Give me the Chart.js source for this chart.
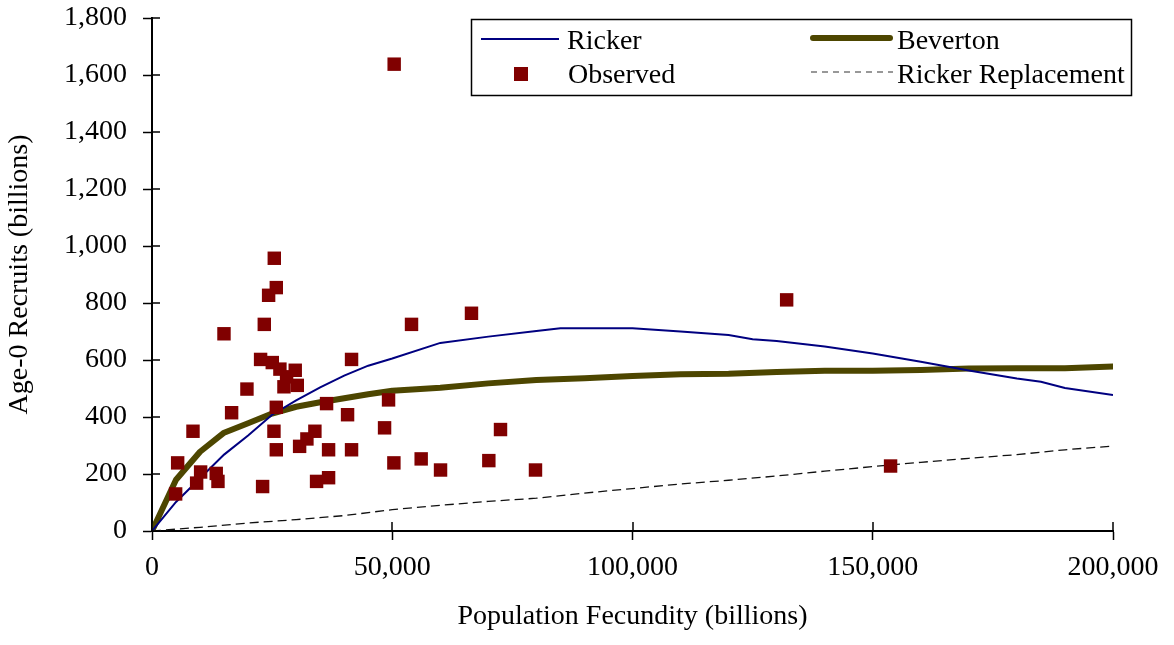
<!DOCTYPE html>
<html><head><meta charset="utf-8">
<script src="https://cdn.jsdelivr.net/npm/chart.js@4.4.1/dist/chart.umd.min.js"></script>
<style>html,body{margin:0;padding:0;background:#fff;}#wrap{width:1174px;height:645px;position:relative;}</style>
</head><body><div id="wrap"><canvas id="c" width="1174" height="645"></canvas></div>
<script>
// ---- data ----
const obsFecundity = [25450,25870,24270,23370,14980,22600,25030,26620,29810,28010,27460,30230,41530,19760,25870,36330,16570,40700,49230,48400,8530,25380,33900,32240,30720,25870,36750,41530,50340,5340,10120,13370,9290,13730,23020,34250,36750,4920,66490,54010,72530,56020,60050,70100,79810,50400,132080,153710];
const obsRecruits  = [957,854,827,725,692,602,591,568,564,541,506,511,602,498,434,447,415,408,460,362,350,350,350,323,297,285,285,285,239,239,207,202,168,174,156,174,187,130,764,725,356,253,214,247,214,1638,811,228];

const rickerX = [0,5000,10000,15000,20000,25000,30000,35000,40000,45000,50000,60000,70000,80000,85000,90000,100000,110000,120000,125000,130000,140000,150000,160000,170000,180000,185000,190000,200000];
const rickerY = [0,102,185,268,335,408,458,504,545,580,605,660,682,702,711,711,711,700,688,673,667,647,623,594,563,535,524,502,477];

const bevertonX = [0,5000,10000,15000,20000,25000,30000,35000,40000,45000,50000,60000,70000,80000,90000,100000,110000,120000,130000,140000,150000,160000,170000,180000,190000,200000];
const bevertonY = [0,180,278,345,378,412,436,452,466,480,492,503,518,530,536,544,550,552,558,562,562,565,570,571,571,577];

const replX = [0,10000,20000,30000,40000,50000,60000,70000,80000,90000,100000,110000,120000,130000,140000,150000,160000,170000,180000,190000,200000];
const replY = [0,13,28,40,54,75,90,104,115,133,149,165,178,193,210,226,241,255,268,285,298];

const xTickStep = 50000, xMax = 200000;
const yTickStep = 200, yMax = 1800;
const seriesNames = ['Observed','Ricker','Beverton','Ricker Replacement'];
const xTitle = 'Population Fecundity (billions)';
const yTitle = 'Age-0 Recruits (billions)';

// ---- chart ----
const FONT = "'Liberation Serif','Times New Roman',serif";
const pts = (xs, ys) => xs.map((x, i) => ({x, y: ys[i]}));
const font28 = {family: FONT, size: 28};

const innerTicks = {
  id: 'innerTicks',
  afterDraw(chart) {
    const {ctx, scales: {x, y}, chartArea: a} = chart;
    ctx.save();
    ctx.strokeStyle = '#000'; ctx.lineWidth = 1.5;
    ctx.beginPath();
    x.ticks.forEach(t => { const p = Math.round(x.getPixelForValue(t.value)); ctx.moveTo(p, a.bottom); ctx.lineTo(p, a.bottom - 9); });
    y.ticks.forEach(t => { const p = Math.round(y.getPixelForValue(t.value)); ctx.moveTo(a.left, p); ctx.lineTo(a.left + 8, p); });
    ctx.stroke();
    ctx.restore();
  }
};

const boxLegend = {
  id: 'boxLegend',
  afterDraw(chart) {
    const c = chart.ctx, ds = chart.data.datasets;
    c.save();
    c.fillStyle = '#fff';
    c.fillRect(471, 19, 661, 76);
    c.strokeStyle = '#000'; c.lineWidth = 1.5;
    c.strokeRect(471.5, 19.5, 660, 76);
    c.font = `28px ${FONT}`; c.fillStyle = '#000'; c.textAlign = 'left'; c.textBaseline = 'alphabetic';
    // Ricker
    c.strokeStyle = ds[1].borderColor; c.lineWidth = 2;
    c.beginPath(); c.moveTo(481, 39); c.lineTo(559, 39); c.stroke();
    c.fillText(ds[1].label, 567, 49);
    // Beverton
    c.strokeStyle = ds[2].borderColor; c.lineWidth = 6; c.lineCap = 'round';
    c.beginPath(); c.moveTo(813, 38); c.lineTo(890, 38); c.stroke();
    c.lineCap = 'butt';
    c.fillText(ds[2].label, 897, 49);
    // Observed
    c.fillStyle = ds[0].backgroundColor; c.fillRect(514, 67, 14, 14);
    c.fillStyle = '#000';
    c.fillText(ds[0].label, 568, 83);
    // Ricker Replacement
    c.strokeStyle = '#777'; c.lineWidth = 1.3; c.setLineDash([6, 5]);
    c.beginPath(); c.moveTo(811, 72); c.lineTo(893, 72); c.stroke();
    c.setLineDash([]);
    c.fillText(ds[3].label, 897, 83);
    c.restore();
  }
};

new Chart(document.getElementById('c'), {
  type: 'scatter',
  data: {
    datasets: [
      {label: seriesNames[0], data: pts(obsFecundity, obsRecruits), pointStyle: 'rect', pointRadius: 9.5, pointHoverRadius: 9.5,
       backgroundColor: '#800000', borderColor: '#800000', borderWidth: 0, order: 0},
      {label: seriesNames[1], data: pts(rickerX, rickerY), showLine: true, borderColor: '#000080', borderWidth: 2,
       pointRadius: 0, tension: 0, fill: false, order: 1},
      {label: seriesNames[2], data: pts(bevertonX, bevertonY), showLine: true, borderColor: '#4d4600', borderWidth: 6,
       pointRadius: 0, tension: 0, fill: false, borderJoinStyle: 'round', borderCapStyle: 'round', order: 2},
      {label: seriesNames[3], data: pts(replX, replY), showLine: true, borderColor: '#111', borderWidth: 1.3, borderDash: [9, 5],
       pointRadius: 0, tension: 0, fill: false, order: 3}
    ]
  },
  options: {
    responsive: false, animation: false, devicePixelRatio: 1,
    layout: {padding: {top: 18, right: 61, left: 0, bottom: 0}},
    plugins: {legend: {display: false}, tooltip: {enabled: false}},
    scales: {
      x: {
        type: 'linear', min: 0, max: xMax,
        ticks: {stepSize: xTickStep, font: font28, color: '#000', padding: 11, maxRotation: 0,
                callback: v => Number(v).toLocaleString('en-US')},
        grid: {drawOnChartArea: false, drawTicks: true, tickLength: 9, tickColor: '#000', tickWidth: 1.5, color: '#000'},
        border: {display: true, color: '#000', width: 2},
        title: {display: true, text: xTitle, font: font28, color: '#000', padding: {top: 0, bottom: 12}},
        afterFit(s) { s.height = 114; s.paddingLeft = 0; s.paddingRight = 0; }
      },
      y: {
        type: 'linear', min: 0, max: yMax,
        ticks: {stepSize: yTickStep, font: font28, color: '#000', padding: 16,
                callback: v => Number(v).toLocaleString('en-US')},
        grid: {drawOnChartArea: false, drawTicks: true, tickLength: 9, tickColor: '#000', tickWidth: 1.5, color: '#000'},
        border: {display: true, color: '#000', width: 2},
        title: {display: true, text: yTitle, font: font28, color: '#000', padding: {top: 3, bottom: 3}},
        afterFit(s) { s.width = 152; s.paddingTop = 0; s.paddingBottom = 0; }
      }
    }
  },
  plugins: [innerTicks, boxLegend]
});
</script>
</body></html>
